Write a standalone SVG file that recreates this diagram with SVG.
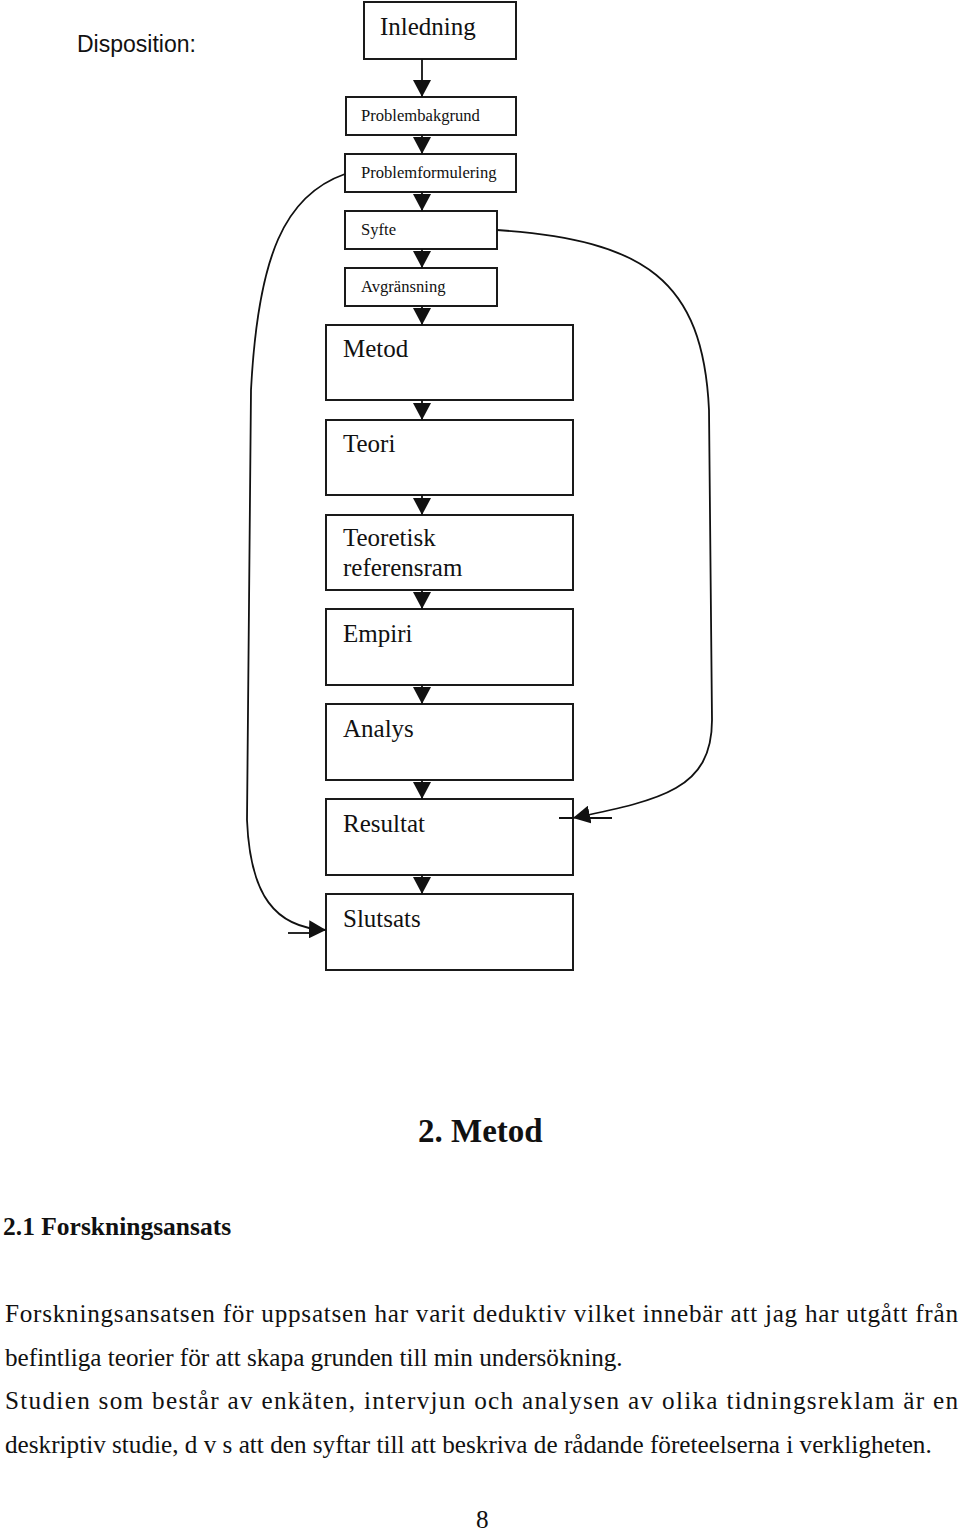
<svg xmlns="http://www.w3.org/2000/svg" width="960" height="1531" viewBox="0 0 960 1531">
<style>
.box{fill:#fff;stroke:#1a1a1a;stroke-width:2}
.big{font-family:"Liberation Serif","Times New Roman",serif;font-size:25px;fill:#111}
.small{font-family:"Liberation Serif","Times New Roman",serif;font-size:16.6px;fill:#111}
.con{fill:none;stroke:#111;stroke-width:1.8}
.head{font-family:"Liberation Serif","Times New Roman",serif;font-weight:bold;fill:#111}
.body{font-family:"Liberation Serif","Times New Roman",serif;font-size:25.2px;fill:#111}
</style>
<defs>
<marker id="ah" viewBox="0 0 17 18" refX="17" refY="9" markerWidth="17" markerHeight="18" markerUnits="userSpaceOnUse" orient="auto">
<path d="M0,0 L17,9 L0,18 Z" fill="#111"/>
</marker>
</defs>
<text x="77" y="52" font-family="Liberation Sans, Arial, sans-serif" font-size="23" fill="#111">Disposition:</text>
<g id="n-inledning"><rect class="box" x="364" y="2" width="152" height="57"/><text class="big" x="380" y="35">Inledning</text></g>
<g id="n-problembakgrund"><rect class="box" x="346" y="97" width="170" height="38"/><text class="small" x="361" y="121">Problembakgrund</text></g>
<g id="n-problemformulering"><rect class="box" x="345" y="154" width="171" height="38"/><text class="small" x="361" y="178">Problemformulering</text></g>
<g id="n-syfte"><rect class="box" x="345" y="211" width="152" height="38"/><text class="small" x="361" y="235">Syfte</text></g>
<g id="n-avgransning"><rect class="box" x="345" y="268" width="152" height="38"/><text class="small" x="361" y="292">Avgränsning</text></g>
<g id="n-metod"><rect class="box" x="326" y="325" width="247" height="75"/><text class="big" x="343" y="357">Metod</text></g>
<g id="n-teori"><rect class="box" x="326" y="420" width="247" height="75"/><text class="big" x="343" y="452">Teori</text></g>
<g id="n-teoretisk"><rect class="box" x="326" y="515" width="247" height="75"/><text class="big" x="343" y="546">Teoretisk</text><text class="big" x="343" y="576">referensram</text></g>
<g id="n-empiri"><rect class="box" x="326" y="609" width="247" height="76"/><text class="big" x="343" y="642">Empiri</text></g>
<g id="n-analys"><rect class="box" x="326" y="704" width="247" height="76"/><text class="big" x="343" y="737">Analys</text></g>
<g id="n-resultat"><rect class="box" x="326" y="799" width="247" height="76"/><text class="big" x="343" y="832">Resultat</text></g>
<g id="n-slutsats"><rect class="box" x="326" y="894" width="247" height="76"/><text class="big" x="343" y="927">Slutsats</text></g>
<g id="connectors">
<path class="con" d="M422,59 V97" marker-end="url(#ah)"/>
<path class="con" d="M422,135 V154" marker-end="url(#ah)"/>
<path class="con" d="M422,192 V211" marker-end="url(#ah)"/>
<path class="con" d="M422,249 V268" marker-end="url(#ah)"/>
<path class="con" d="M422,306 V325" marker-end="url(#ah)"/>
<path class="con" d="M422,400 V420" marker-end="url(#ah)"/>
<path class="con" d="M422,495 V515" marker-end="url(#ah)"/>
<path class="con" d="M422,590 V609" marker-end="url(#ah)"/>
<path class="con" d="M422,685 V704" marker-end="url(#ah)"/>
<path class="con" d="M422,780 V799" marker-end="url(#ah)"/>
<path class="con" d="M422,875 V894" marker-end="url(#ah)"/>
<path class="con" d="M345,174 C285,195 258,255 251,390 L247,820 C250,895 275,928 326,930" marker-end="url(#ah)"/>
<path class="con" d="M288,933 H312"/>
<path class="con" d="M497,230 C645,240 703,280 709,410 L712,720 C712,790 660,800 573,818" marker-end="url(#ah)"/>
<path class="con" d="M559,818 H573 M590,818 H612"/>
</g>
<text class="head" x="418" y="1142" font-size="33">2. Metod</text>
<text class="head" x="3" y="1235" font-size="25.5">2.1 Forskningsansats</text>
<text class="body" x="5" y="1322" textLength="953" lengthAdjust="spacing">Forskningsansatsen för uppsatsen har varit deduktiv vilket innebär att jag har utgått från</text>
<text class="body" x="5" y="1366">befintliga teorier för att skapa grunden till min undersökning.</text>
<text class="body" x="5" y="1409" textLength="953" lengthAdjust="spacing">Studien som består av enkäten, intervjun och analysen av olika tidningsreklam är en</text>
<text class="body" x="5" y="1453">deskriptiv studie, d v s att den syftar till att beskriva de rådande företeelserna i verkligheten.</text>
<text class="body" x="476" y="1528">8</text>
</svg>
